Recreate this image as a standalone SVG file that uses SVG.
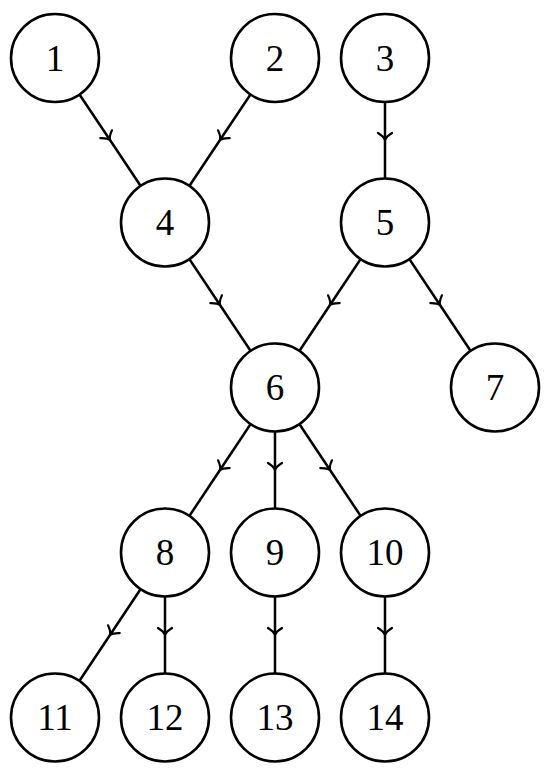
<svg xmlns="http://www.w3.org/2000/svg" width="554" height="774" viewBox="0 0 554 774">
<defs>
<marker id="tip" markerUnits="userSpaceOnUse" viewBox="-10 -9 12 18" markerWidth="12" markerHeight="18" refX="0" refY="0" orient="auto" overflow="visible">
<path d="M -7 -7 C -4.5 -3 -1.8 -0.6 0 0 C -1.8 0.6 -4.5 3 -7 7" fill="none" stroke="#000" stroke-width="2.2" stroke-linecap="round"/>
</marker>
</defs>
<style>
.e{fill:none;stroke:#000;stroke-width:2.5;marker-mid:url(#tip)}
.n circle{fill:#fff;stroke:#000;stroke-width:2.6}
.n text{font-family:"Liberation Serif","DejaVu Serif",serif;font-size:37px;text-anchor:middle;fill:#000}
</style>
<rect width="554" height="774" fill="#fff"/>
<g id="edges">
<path class="e" d="M55 58 L110 140 L165 222.5"/>
<path class="e" d="M275 58 L220 140 L165 222.5"/>
<path class="e" d="M385 58 L385 140 L385 222.5"/>
<path class="e" d="M165 222.5 L220 305 L275 387.5"/>
<path class="e" d="M385 222.5 L330 305 L275 387.5"/>
<path class="e" d="M385 222.5 L440 305 L495 387.5"/>
<path class="e" d="M275 387.5 L220 470 L165 552.5"/>
<path class="e" d="M275 387.5 L275 470 L275 552.5"/>
<path class="e" d="M275 387.5 L330 470 L385 552.5"/>
<path class="e" d="M165 552.5 L110 635 L55 717.5"/>
<path class="e" d="M165 552.5 L165 635 L165 717.5"/>
<path class="e" d="M275 552.5 L275 635 L275 717.5"/>
<path class="e" d="M385 552.5 L385 635 L385 717.5"/>
</g>
<g id="n1" class="n"><circle cx="55" cy="58" r="44"/><text x="55" y="70.5">1</text></g>
<g id="n2" class="n"><circle cx="275" cy="58" r="44"/><text x="275" y="70.5">2</text></g>
<g id="n3" class="n"><circle cx="385" cy="58" r="44"/><text x="385" y="70.5">3</text></g>
<g id="n4" class="n"><circle cx="165" cy="222.5" r="44"/><text x="165" y="235">4</text></g>
<g id="n5" class="n"><circle cx="385" cy="222.5" r="44"/><text x="385" y="235">5</text></g>
<g id="n6" class="n"><circle cx="275" cy="387.5" r="44"/><text x="275" y="400">6</text></g>
<g id="n7" class="n"><circle cx="495" cy="387.5" r="44"/><text x="495" y="400">7</text></g>
<g id="n8" class="n"><circle cx="165" cy="552.5" r="44"/><text x="165" y="565">8</text></g>
<g id="n9" class="n"><circle cx="275" cy="552.5" r="44"/><text x="275" y="565">9</text></g>
<g id="n10" class="n"><circle cx="385" cy="552.5" r="44"/><text x="385" y="565">10</text></g>
<g id="n11" class="n"><circle cx="55" cy="717.5" r="44"/><text x="55" y="730">11</text></g>
<g id="n12" class="n"><circle cx="165" cy="717.5" r="44"/><text x="165" y="730">12</text></g>
<g id="n13" class="n"><circle cx="275" cy="717.5" r="44"/><text x="275" y="730">13</text></g>
<g id="n14" class="n"><circle cx="385" cy="717.5" r="44"/><text x="385" y="730">14</text></g>
</svg>
